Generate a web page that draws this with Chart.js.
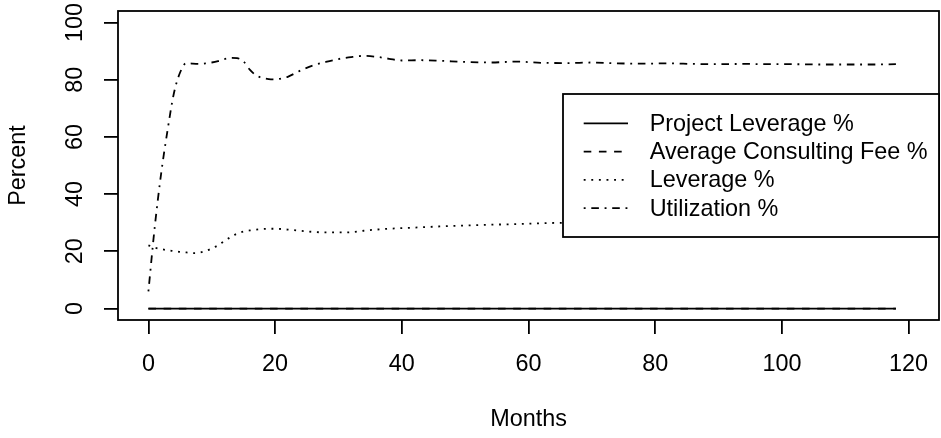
<!DOCTYPE html>
<html>
<head>
<meta charset="utf-8">
<script src="https://cdn.jsdelivr.net/npm/chart.js@4"></script>
<style>
  html, body { margin: 0; padding: 0; background: #fff; }
  canvas { display: block; }
</style>
</head>
<body>
<canvas id="chart" width="941" height="438"></canvas>
<script>
const months = [0, 1, 2, 3, 4, 5, 6, 7, 8, 9, 10, 11, 12, 13, 14, 15, 16, 17, 18, 19, 20, 21, 22, 24, 26, 28, 30, 32, 34, 36, 38, 40, 43, 46, 50, 54, 58, 62, 66, 70, 74, 78, 82, 86, 90, 94, 98, 102, 106, 110, 114, 118];

const projectLeverage = [0, 0, 0, 0, 0, 0, 0, 0, 0, 0, 0, 0, 0, 0, 0, 0, 0, 0, 0, 0, 0, 0, 0, 0, 0, 0, 0, 0, 0, 0, 0, 0, 0, 0, 0, 0, 0, 0, 0, 0, 0, 0, 0, 0, 0, 0, 0, 0, 0, 0, 0, 0];
const consultingFee = [0, 0, 0, 0, 0, 0, 0, 0, 0, 0, 0, 0, 0, 0, 0, 0, 0, 0, 0, 0, 0, 0, 0, 0, 0, 0, 0, 0, 0, 0, 0, 0, 0, 0, 0, 0, 0, 0, 0, 0, 0, 0, 0, 0, 0, 0, 0, 0, 0, 0, 0, 0];
const leverage = [22.1, 21.3, 20.8, 20.4, 20.1, 19.8, 19.6, 19.4, 19.5, 20.1, 21.0, 22.1, 23.6, 25.0, 26.2, 26.9, 27.3, 27.6, 27.8, 27.9, 27.9, 27.8, 27.6, 27.2, 26.8, 26.6, 26.6, 26.7, 27.2, 27.6, 27.9, 28.1, 28.4, 28.7, 29.0, 29.3, 29.5, 29.8, 30.0, 30.1, 30.2, 30.3, 30.4, 30.5, 30.5, 30.6, 30.6, 30.7, 30.7, 30.8, 30.8, 30.9];
const utilization = [6.0, 28.5, 47.0, 62.0, 75.0, 82.5, 85.8, 85.6, 85.5, 85.7, 86.0, 86.5, 87.2, 87.6, 87.5, 86.4, 83.5, 81.5, 80.6, 80.2, 80.1, 80.4, 81.0, 83.2, 85.0, 86.2, 87.2, 87.9, 88.3, 88.0, 87.3, 86.7, 86.8, 86.6, 86.2, 86.0, 86.3, 85.9, 85.8, 86.0, 85.7, 85.6, 85.7, 85.5, 85.4, 85.5, 85.4, 85.4, 85.3, 85.3, 85.3, 85.4];

const seriesLabels = ["Project Leverage %", "Average Consulting Fee %", "Leverage %", "Utilization %"];
const xTicks = [0, 20, 40, 60, 80, 100, 120];
const yTicks = [0, 20, 40, 60, 80, 100];

const u = 1.9;
const dashes = [[], [4 * u, 4 * u], [1 * u, 3 * u], [1 * u, 3 * u, 4 * u, 3 * u]];
const lineW = 1.8;

Chart.defaults.font.family = "Helvetica, Arial, 'Liberation Sans', sans-serif";
Chart.defaults.font.size = 23.4;
Chart.defaults.color = "#000";

function toPoints(values) {
  return months.map((m, i) => ({ x: m, y: values[i] }));
}

const allSeries = [projectLeverage, consultingFee, leverage, utilization];

const datasets = allSeries.map((values, i) => ({
  label: seriesLabels[i],
  data: toPoints(values),
  borderColor: "#000",
  borderWidth: lineW,
  borderDash: dashes[i],
  pointRadius: 0,
  fill: false,
  cubicInterpolationMode: "monotone",
  order: allSeries.length - i
}));

// box round the plot region
const frame = {
  id: "frame",
  afterDraw(chart) {
    const { ctx, chartArea: a } = chart;
    ctx.save();
    ctx.strokeStyle = "#000";
    ctx.lineWidth = lineW;
    ctx.strokeRect(a.left, a.top, a.right - a.left, a.bottom - a.top);
    ctx.restore();
  }
};

// R style legend box on the right, centred vertically
const boxLegend = {
  id: "boxLegend",
  afterDraw(chart) {
    const { ctx, chartArea: a } = chart;
    const sets = chart.data.datasets;
    const rowH = 28.3;
    const w = 376;
    const h = 143;
    const left = a.right - w;
    const top = (a.top + a.bottom) / 2 - h / 2;

    ctx.save();
    ctx.fillStyle = "#fff";
    ctx.fillRect(left, top, w, h);
    ctx.strokeStyle = "#000";
    ctx.lineWidth = lineW;
    ctx.strokeRect(left, top, w, h);

    ctx.font = "23.4px Helvetica, Arial, 'Liberation Sans', sans-serif";
    ctx.textBaseline = "middle";
    ctx.textAlign = "left";
    ctx.fillStyle = "#000";

    sets.forEach((ds, i) => {
      const y = top + 29.3 + i * rowH;
      ctx.beginPath();
      ctx.setLineDash(ds.borderDash);
      ctx.moveTo(left + 20.7, y);
      ctx.lineTo(left + 65, y);
      ctx.stroke();
      ctx.setLineDash([]);
      ctx.fillText(ds.label, left + 86.7, y + 1);
    });
    ctx.restore();
  }
};

new Chart(document.getElementById("chart"), {
  type: "line",
  data: { datasets: datasets },
  options: {
    responsive: false,
    animation: false,
    layout: { padding: { left: 0, right: 2, top: 11, bottom: 0 } },
    plugins: {
      legend: { display: false },
      tooltip: { enabled: false }
    },
    scales: {
      x: {
        type: "linear",
        min: -4.8,
        max: 124.8,
        afterFit: (s) => {
          s.height = 118;
          s.paddingLeft = 0;
          s.paddingRight = 0;
        },
        afterBuildTicks: (s) => { s.ticks = xTicks.map((v) => ({ value: v })); },
        ticks: { padding: 16.5, color: "#000", maxRotation: 0 },
        grid: { drawOnChartArea: false, color: "#000", lineWidth: lineW, tickLength: 14 },
        border: { display: false },
        title: { display: true, text: "Months", color: "#000", padding: { top: 0, bottom: 4.5 } }
      },
      y: {
        type: "linear",
        min: -4,
        max: 104,
        afterFit: (s) => {
          s.width = 118;
          s.paddingTop = 0;
          s.paddingBottom = 0;
        },
        afterBuildTicks: (s) => { s.ticks = yTicks.map((v) => ({ value: v })); },
        ticks: { padding: 8.5, color: "#000", minRotation: 90, maxRotation: 90, crossAlign: "center" },
        grid: { drawOnChartArea: false, color: "#000", lineWidth: lineW, tickLength: 14 },
        border: { display: false },
        title: { display: true, text: "Percent", color: "#000", padding: { top: 4.6, bottom: 0 } }
      }
    }
  },
  plugins: [frame, boxLegend]
});
</script>
</body>
</html>
